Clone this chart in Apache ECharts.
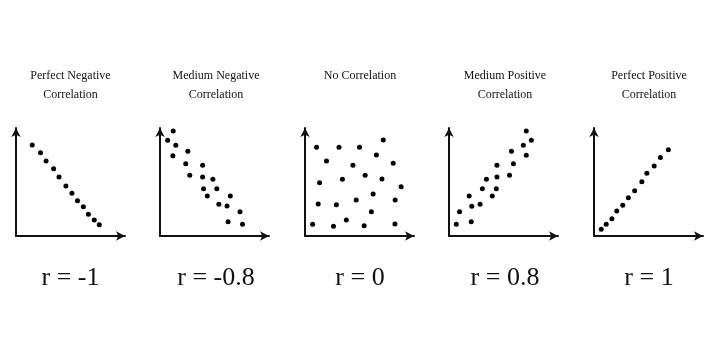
<!DOCTYPE html>
<html>
<head>
<meta charset="utf-8">
<script src="https://cdn.jsdelivr.net/npm/echarts@6/dist/echarts.min.js"></script>
<style>
html,body{margin:0;padding:0;background:#fff;}
#chart{width:720px;height:360px;}
</style>
</head>
<body>
<div id="chart"></div>
<script>
// Panel titles and r labels
const titles = ["Perfect Negative\nCorrelation", "Medium Negative\nCorrelation", "No Correlation", "Medium Positive\nCorrelation", "Perfect Positive\nCorrelation"];
const rLabels = ["r = -1", "r = -0.8", "r = 0", "r = 0.8", "r = 1"];

// Point data per panel (x, y) in 0-100 axis units
const perfectNegative = [[14.9,84.3],[22.5,77.1],[27.6,69.4],[34.5,62.3],[39.5,54.6],[45.8,46.3],[51.3,39.5],[56.4,32.7],[61.8,27.1],[66.4,20.1],[71.8,14.8],[76.4,10.5]];
const mediumNegative = [[12.1,97.2],[7.0,88.6],[14.5,84.0],[11.8,74.4],[25.5,78.4],[23.6,66.9],[27.3,56.2],[39.1,65.5],[39.1,54.6],[48.5,52.5],[40.0,43.8],[43.4,37.0],[52.1,43.8],[64.5,37.0],[54.0,29.4],[61.5,27.8],[73.4,22.5],[62.5,13.2],[75.7,10.8]];
const noCorrelation = [[10.6,82.1],[31.2,82.1],[50.0,82.1],[71.8,88.9],[19.7,69.4],[44.0,65.5],[65.5,75.0],[80.9,67.3],[13.4,49.4],[34.3,52.5],[55.2,56.2],[70.6,52.8],[88.2,45.7],[12.1,29.6],[28.8,29.0],[47.0,33.3],[62.5,38.9],[82.7,33.3],[60.9,22.5],[7.0,10.8],[26.1,9.0],[37.9,14.8],[54.3,9.5],[82.5,11.1]];
const mediumPositive = [[70.9,97.2],[75.5,88.6],[68.2,84.0],[70.9,74.7],[57.3,78.4],[59.1,66.9],[55.5,56.2],[44.0,65.5],[44.0,54.6],[34.3,52.5],[30.6,43.8],[43.4,43.8],[39.7,37.0],[18.5,37.0],[28.5,29.4],[20.9,27.5],[9.7,22.5],[20.4,13.2],[6.7,10.8]];
const perfectPositive = [[6.6,6.2],[11.2,10.8],[16.4,16.0],[20.9,23.1],[26.4,28.4],[31.5,35.5],[37.3,41.9],[43.9,50.3],[48.5,58.0],[55.2,64.8],[60.9,72.8],[68.2,79.9]];

const panels = [perfectNegative, mediumNegative, noCorrelation, mediumPositive, perfectPositive];

const gridLefts = [16, 160, 305, 449, 594];
const centers = [70.5, 216, 360, 505, 649];
const FONT = '"Liberation Serif", "Times New Roman", serif';

const chart = echarts.init(document.getElementById('chart'), null, {renderer: 'canvas'});

const grid = [], xAxis = [], yAxis = [], series = [], title = [];
const axisLine = {show: true, symbol: ['none', 'arrow'], symbolSize: [7, 9], symbolOffset: [0, 0], lineStyle: {color: '#111', width: 2}};
panels.forEach((data, i) => {
  grid.push({left: gridLefts[i], top: 128, width: 109, height: 108});
  xAxis.push({gridIndex: i, type: 'value', min: 0, max: 100, axisLine: axisLine, axisTick: {show: false}, axisLabel: {show: false}, splitLine: {show: false}});
  yAxis.push({gridIndex: i, type: 'value', min: 0, max: 100, axisLine: axisLine, axisTick: {show: false}, axisLabel: {show: false}, splitLine: {show: false}});
  series.push({type: 'scatter', xAxisIndex: i, yAxisIndex: i, data: data, symbolSize: 5, itemStyle: {color: '#000', opacity: 1}, silent: true});
  title.push({text: titles[i], left: centers[i], top: 66, padding: 0, textAlign: 'center',
    textStyle: {fontFamily: FONT, fontSize: 12, fontWeight: 'normal', color: '#111', lineHeight: 19}});
  title.push({text: rLabels[i], left: centers[i], top: 265, padding: 0, textAlign: 'center',
    textStyle: {fontFamily: FONT, fontSize: 26, fontWeight: 'normal', color: '#111'}});
});

chart.setOption({animation: false, backgroundColor: '#fff', title, grid, xAxis, yAxis, series});
</script>
</body>
</html>
